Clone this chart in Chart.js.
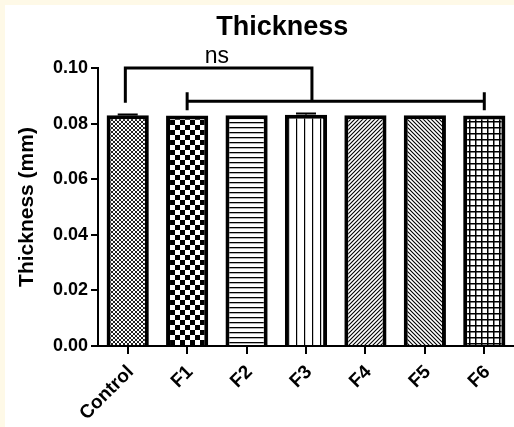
<!DOCTYPE html>
<html>
<head>
<meta charset="utf-8">
<script src="https://cdn.jsdelivr.net/npm/chart.js@4"></script>
<style>
  html, body { margin: 0; padding: 0; background: #fef9e7; }
  #wrap { position: absolute; left: 5px; top: 5px; width: 509px; height: 422px; background: #fff; }
</style>
</head>
<body>
<div id="wrap"><canvas id="chart"></canvas></div>
<script>
const categories = ["Control", "F1", "F2", "F3", "F4", "F5", "F6"];
const thickness = [0.0830, 0.0829, 0.0830, 0.0832, 0.0830, 0.0830, 0.0829];
const errors = [0.0003, 0, 0, 0.0004, 0, 0, 0];
const yTicks = [0, 0.02, 0.04, 0.06, 0.08, 0.10];
// significance brackets: [fromIndex, toIndex, topLevel, bottomLevel, label]
const brackets = [[-0.04, 3.1, 0.1, 0.0875, "ns"], [1, 6, 0.088]];

const font = "'Liberation Sans', Arial, Helvetica, sans-serif";

function makePattern(size, draw) {
  const c = document.createElement("canvas");
  c.width = size; c.height = size;
  const g = c.getContext("2d");
  g.fillStyle = "#fff";
  g.fillRect(0, 0, size, size);
  g.fillStyle = "#000";
  g.strokeStyle = "#000";
  draw(g, size);
  return g.createPattern(c, "repeat");
}

const patterns = [
  makePattern(4, (g) => { g.fillStyle = "#222"; g.fillRect(0, 0, 2, 2); g.fillRect(2, 2, 2, 2); }),
  makePattern(10, (g) => { g.fillRect(0, 0, 5, 5); g.fillRect(5, 5, 5, 5); }),
  makePattern(5, (g) => { g.fillRect(0, 2, 5, 1.3); }),
  makePattern(8, (g) => { g.fillRect(3, 0, 1.2, 8); }),
  makePattern(4, (g) => { g.lineWidth = 1.1; g.beginPath(); g.moveTo(0, 4); g.lineTo(4, 0); g.moveTo(-1, 1); g.lineTo(1, -1); g.moveTo(3, 5); g.lineTo(5, 3); g.stroke(); }),
  makePattern(4, (g) => { g.lineWidth = 1.1; g.beginPath(); g.moveTo(0, 0); g.lineTo(4, 4); g.moveTo(3, -1); g.lineTo(5, 1); g.moveTo(-1, 3); g.lineTo(1, 5); g.stroke(); }),
  makePattern(6, (g) => { g.fillRect(2, 0, 1.5, 6); g.fillRect(0, 2, 6, 1.5); })
];

const extras = {
  id: "extras",
  afterDatasetsDraw(chart) {
    const { ctx, scales: { x, y } } = chart;
    ctx.save();
    ctx.strokeStyle = "#000";
    ctx.lineWidth = 2;
    // error bar caps
    thickness.forEach((v, i) => {
      if (!errors[i]) return;
      const cx = x.getPixelForValue(i);
      const top = y.getPixelForValue(v + errors[i]);
      ctx.beginPath();
      ctx.moveTo(cx, y.getPixelForValue(v));
      ctx.lineTo(cx, top);
      ctx.moveTo(cx - 10, top);
      ctx.lineTo(cx + 10, top);
      ctx.stroke();
    });
    // brackets
    ctx.lineWidth = 3;
    const b0 = brackets[0];
    ctx.beginPath();
    ctx.moveTo(x.getPixelForValue(b0[0]), y.getPixelForValue(b0[3]));
    ctx.lineTo(x.getPixelForValue(b0[0]), y.getPixelForValue(b0[2]));
    ctx.lineTo(x.getPixelForValue(b0[1]), y.getPixelForValue(b0[2]));
    ctx.lineTo(x.getPixelForValue(b0[1]), y.getPixelForValue(brackets[1][2]));
    ctx.stroke();
    const b1 = brackets[1];
    const ly = y.getPixelForValue(b1[2]);
    ctx.beginPath();
    ctx.moveTo(x.getPixelForValue(b1[0]), ly);
    ctx.lineTo(x.getPixelForValue(b1[1]), ly);
    [b1[0], b1[1]].forEach((i) => {
      ctx.moveTo(x.getPixelForValue(i), ly - 9);
      ctx.lineTo(x.getPixelForValue(i), ly + 9);
    });
    ctx.stroke();
    ctx.fillStyle = "#000";
    ctx.font = "23px " + font;
    ctx.textAlign = "center";
    ctx.textBaseline = "alphabetic";
    ctx.fillText(b0[4], x.getPixelForValue(1.5), y.getPixelForValue(b0[2]) - 5);
    // title
    ctx.font = "bold 27px " + font;
    ctx.fillText("Thickness", x.getPixelForValue(2.6), 30);
    ctx.restore();
  }
};

new Chart(document.getElementById("chart"), {
  type: "bar",
  data: {
    labels: categories,
    datasets: [{
      data: thickness,
      backgroundColor: patterns,
      borderColor: "#000",
      borderWidth: 4,
      borderSkipped: "bottom",
      barPercentage: 0.71,
      categoryPercentage: 1
    }]
  },
  options: {
    responsive: true,
    maintainAspectRatio: false,
    animation: false,
    layout: { padding: { top: 63, right: 0, left: 0, bottom: 0 } },
    plugins: { legend: { display: false }, tooltip: { enabled: false } },
    scales: {
      x: {
        afterFit: (s) => { s.height = 81; },
        grid: { offset: false, drawOnChartArea: false, color: "#000", lineWidth: 2, tickLength: 8 },
        border: { color: "#000", width: 2 },
        ticks: {
          color: "#000", minRotation: 45, maxRotation: 45, padding: 7, labelOffset: 3,
          font: { family: font, size: 19, weight: "bold" }
        }
      },
      y: {
        min: 0, max: 0.1,
        afterFit: (s) => { s.width = 93; },
        afterBuildTicks: (s) => { s.ticks = yTicks.map((v) => ({ value: v })); },
        grid: { drawOnChartArea: false, color: "#000", lineWidth: 2, tickLength: 7 },
        border: { color: "#000", width: 2 },
        title: {
          display: true, text: "Thickness (mm)", color: "#000",
          padding: { top: 10, bottom: 0 },
          font: { family: font, size: 21, weight: "bold" }
        },
        ticks: {
          color: "#000", padding: 3,
          callback: (v) => Number(v).toFixed(2),
          font: { family: font, size: 18, weight: "bold" }
        }
      }
    }
  },
  plugins: [extras]
});
</script>
</body>
</html>
